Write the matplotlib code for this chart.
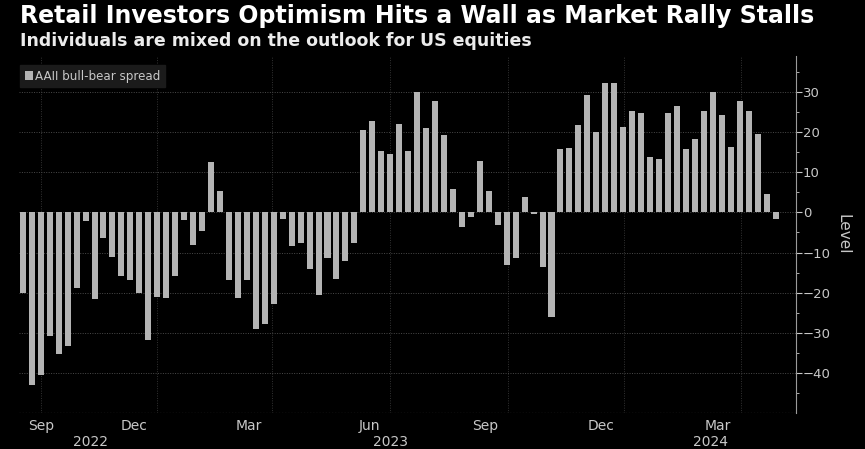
import numpy as np
import pandas as pd
import matplotlib
matplotlib.use('Agg')
import matplotlib.pyplot as plt
from matplotlib.transforms import ScaledTranslation

# weekly AAII bull-bear spread
start = '2022-08-18'
spread = [-20, -43, -40.6, -30.8, -35.3, -33.4, -18.9, -2.1, -21.6, -6.4,
          -11.2, -15.8, -16.8, -20.2, -31.8, -21, -21.3, -15.8, -1.9, -8,
          -4.6, 12.6, 5.4, -16.8, -21.3, -16.8, -29, -27.8, -22.9, -1.7,
          -8.3, -7.7, -14.2, -20.6, -11.4, -16.6, -12.1, -7.5, 20.5, 22.8,
          15.3, 14.6, 22.1, 15.3, 30.1, 21.1, 27.9, 19.4, 5.8, -3.6,
          -1.2, 12.7, 5.4, -3.2, -13.1, -11.4, 3.8, -0.3, -13.6, -26,
          15.7, 16, 21.8, 29.3, 20.1, 32.3, 32.3, 21.3, 25.4, 24.7,
          13.8, 13.3, 24.8, 26.5, 15.7, 18.4, 25.4, 30.1, 24.2, 16.3,
          27.9, 25.4, 19.6, 4.5, -1.6]
dates = pd.date_range(start, periods=len(spread), freq='7D')

month_ticks = pd.to_datetime(['2022-09-01', '2022-12-01', '2023-03-01', '2023-06-01',
                              '2023-09-01', '2023-12-01', '2024-03-01'])
month_labels = ['Sep', 'Dec', 'Mar', 'Jun', 'Sep', 'Dec', 'Mar']
year_pos = pd.to_datetime(['2022-10-10', '2023-06-01', '2024-02-06'])
year_labels = ['2022', '2023', '2024']

title = 'Retail Investors Optimism Hits a Wall as Market Rally Stalls'
subtitle = 'Individuals are mixed on the outlook for US equities'

bg = 'black'
bar_col = '#b4b4b4'
txt_col = '#c8c8c8'
grid_col = '#4a4a4a'

fig = plt.figure(figsize=(8.65, 4.49), dpi=100, facecolor=bg)
ax = fig.add_axes([19/865, 1-413/449, (796-19)/865, (413-56)/449])
ax.set_facecolor(bg)

ax.bar(dates, spread, width=4.7, color=bar_col, label='AAII bull-bear spread', zorder=3)

ax.set_ylim(-50, 39)
ax.set_xlim(dates[0] - pd.Timedelta(days=3), dates[-1] + pd.Timedelta(days=16))

# y axis on the right
ax.yaxis.tick_right()
ax.yaxis.set_label_position('right')
ax.set_yticks(np.arange(-40, 31, 10))
ax.set_yticks(np.arange(-45, 39, 5), minor=True)
ax.tick_params(axis='y', which='major', colors=txt_col, labelsize=9.5, length=4, width=0.8, pad=1)
ax.tick_params(axis='y', which='minor', colors=txt_col, length=2, width=0.6)
ax.set_ylabel('Level', color=txt_col, fontsize=11, rotation=270, labelpad=14)

for s in ['top', 'left', 'bottom']:
    ax.spines[s].set_visible(False)
ax.spines['right'].set_color('#9a9a9a')
ax.spines['right'].set_linewidth(0.8)

# x axis: month ticks, labels sit just left of the gridline
ax.set_xticks(month_ticks)
ax.set_xticklabels(month_labels)
ax.tick_params(axis='x', colors=txt_col, labelsize=10, length=0, pad=4)
off = ScaledTranslation(-10/100, 0, fig.dpi_scale_trans)
for i, lab in enumerate(ax.get_xticklabels()):
    if i == 0:
        lab.set_horizontalalignment('center')
    else:
        lab.set_horizontalalignment('right')
        lab.set_transform(lab.get_transform() + off)

for d, y in zip(year_pos, year_labels):
    ax.text(d, -0.063, y, transform=ax.get_xaxis_transform(), ha='center', va='top',
            color=txt_col, fontsize=10)

# dotted grids
ax.grid(axis='y', which='major', color=grid_col, linestyle=(0, (1, 1.5)), linewidth=0.7, zorder=0)
ax.grid(axis='x', which='major', color='#333333', linestyle=(0, (1, 1.5)), linewidth=0.7, zorder=0)
ax.axhline(-50, color=grid_col, linestyle=(0, (1, 1.5)), linewidth=0.9, zorder=0)

leg = ax.legend(loc='upper left', bbox_to_anchor=(0.001, 0.975), fontsize=8.6,
                frameon=True, facecolor='#1b1b1b', edgecolor='#1b1b1b', framealpha=1,
                handlelength=0.7, handleheight=0.7, handletextpad=0.2, borderpad=0.4,
                labelcolor=txt_col, borderaxespad=0)
leg.get_frame().set_boxstyle('square', pad=0)

fig.text(20/865, 1-16/449, title, color='white', fontsize=17, fontweight='bold', va='center', ha='left')
fig.text(20/865, 1-41/449, subtitle, color='#ececec', fontsize=12.5, fontweight='bold', va='center', ha='left')

fig.savefig('out.png', dpi=100, facecolor=bg)
